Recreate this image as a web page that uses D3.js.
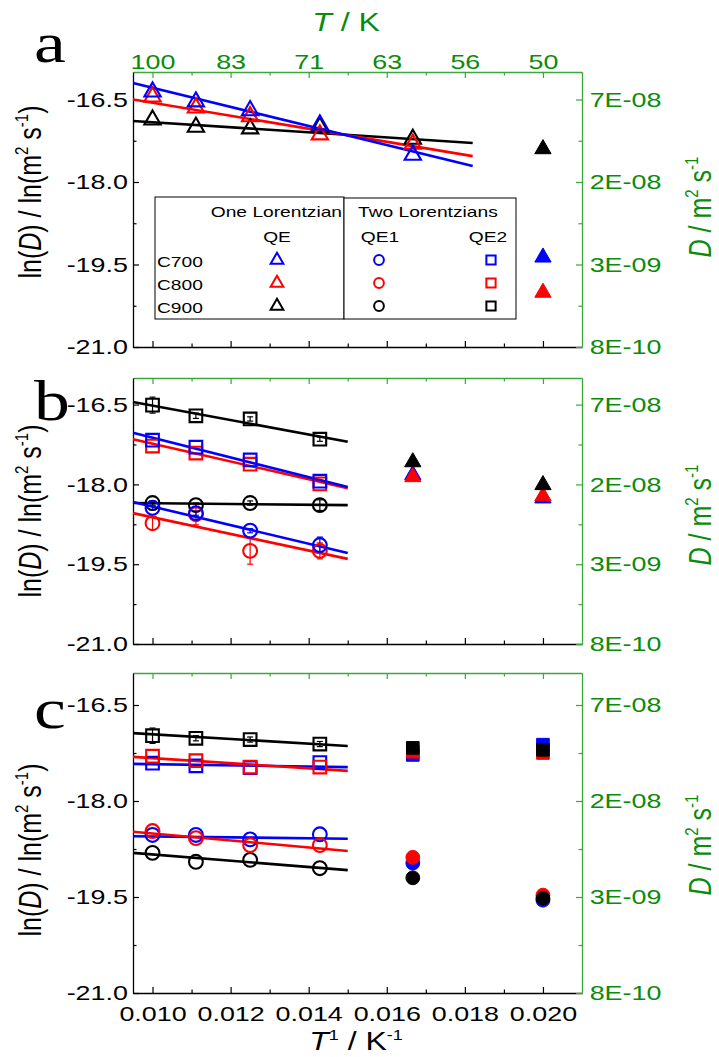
<!DOCTYPE html>
<html>
<head>
<meta charset="utf-8">
<script src="https://cdn.jsdelivr.net/npm/d3@7"></script>
<style>
  body { margin: 0; background: #fff; }
  svg { display: block; font-family: "Liberation Sans", Arial, sans-serif; }
</style>
</head>
<body>
<svg id="chart" width="719" height="1057"></svg>
<script>
// temperatures (K) of the measured points, x is 1/T
var tempsOpen = [100, 90, 80, 70];
var tempsOpenA = [100, 90, 80, 70, 60];
var xTicks = [0.010, 0.012, 0.014, 0.016, 0.018, 0.020];
var xMinor = [0.011, 0.013, 0.015, 0.017, 0.019];
var yTicks = [-16.5, -18.0, -19.5, -21.0];
var yMinor = [-17.25, -18.75, -20.25];
var samples = ["C700", "C800", "C900"];
var colors = ["#0000ff", "#ff0000", "#000000"];

// panel a: one Lorentzian, QE (open triangles)
var a_QE_C700 = [-16.36, -16.54, -16.70, -16.96, -17.51];
var a_QE_C800 = [-16.45, -16.65, -16.81, -17.14, -17.31];
var a_QE_C900 = [-16.87, -17.00, -17.03, -17.00, -17.22];
var a_filled_50K = [-19.37, -20.01, -17.40];
var a_fitX = [0.0095, 0.0182];
var a_fit_C700 = [-16.20, -17.71];
var a_fit_C800 = [-16.50, -17.53];
var a_fit_C900 = [-16.89, -17.29];

// panel b
var b_QE2_C700 = [-17.17, -17.30, -17.54, -17.94];
var b_QE2_C800 = [-17.28, -17.41, -17.62, -17.99];
var b_QE2_C900 = [-16.51, -16.71, -16.77, -17.15];
var b_QE1_C700 = [-18.44, -18.54, -18.87, -19.14];
var b_QE1_C800 = [-18.73, -18.56, -19.25, -19.25];
var b_QE1_C900 = [-18.35, -18.39, -18.35, -18.39];
var b_QE2_C900_err = [0.15, 0.05, 0.04, 0.04];
var b_QE1_C700_err = [0.04, 0.04, 0.04, 0.15];
var b_QE1_C800_err = [0.12, 0.20, 0.25, 0.15];
var b_QE1_C900_err = [0.04, 0.04, 0.04, 0.10];
var b_filled_60K = [-17.82, -17.86, -17.58];
var b_filled_50K = [-18.26, -18.22, -18.01];
var bc_fitX = [0.0095, 0.0150];
var b_fitQE2_C700 = [-17.03, -18.05];
var b_fitQE2_C800 = [-17.15, -18.07];
var b_fitQE2_C900 = [-16.45, -17.20];
var b_fitQE1_C700 = [-18.33, -19.29];
var b_fitQE1_C800 = [-18.54, -19.40];
var b_fitQE1_C900 = [-18.35, -18.39];

// panel c
var c_QE2_C700 = [-17.41, -17.45, -17.48, -17.40];
var c_QE2_C800 = [-17.30, -17.37, -17.47, -17.47];
var c_QE2_C900 = [-16.98, -17.02, -17.04, -17.11];
var c_QE1_C700 = [-18.53, -18.53, -18.60, -18.52];
var c_QE1_C800 = [-18.47, -18.58, -18.69, -18.69];
var c_QE1_C900 = [-18.81, -18.95, -18.92, -19.05];
var c_QE2_C900_err = [0.12, 0.04, 0.04, 0.04];
var c_sq_60K = [-17.28, -17.23, -17.17];
var c_sq_50K = [-17.12, -17.25, -17.20];
var c_circ_60K = [-18.97, -18.88, -19.20];
var c_circ_50K = [-19.55, -19.47, -19.52];
var c_fitQE2_C700 = [-17.42, -17.47];
var c_fitQE2_C800 = [-17.31, -17.53];
var c_fitQE2_C900 = [-16.94, -17.14];
var c_fitQE1_C700 = [-18.55, -18.59];
var c_fitQE1_C800 = [-18.48, -18.78];
var c_fitQE1_C900 = [-18.81, -19.08];


var svg = d3.select("#chart");
var green = "#0a8c0a";
var greenLine = "#3aa83a";
var stretch = 1.28;   // the original text is rendered wide
var left = 133, right = 582;

var x = d3.scaleLinear().domain([0.0095, 0.021]).range([left, right]);

var shapes = { tri: d3.symbolTriangle, circ: d3.symbolCircle, sq: d3.symbolSquare };
var sizes = { tri: 115, circ: 150, sq: 160 };

function inv(arr) { return arr.map(function(t) { return 1 / t; }); }

function wideText(g, tx, ty, str, size, anchor, fill) {
  return g.append("text")
    .attr("transform", "translate(" + tx + "," + ty + ") scale(" + stretch + ",1)")
    .attr("text-anchor", anchor || "start")
    .attr("font-size", size)
    .attr("fill", fill || "#000")
    .text(str);
}

function dLabel(v) {
  var parts = Math.exp(v).toExponential(0).split("e");
  var e = +parts[1];
  return parts[0] + "E" + (e < 0 ? "-" : "+") + String(Math.abs(e)).padStart(2, "0");
}

function styleAxis(g, col) {
  g.selectAll("path.domain").attr("stroke", col).attr("stroke-width", 1.3);
  g.selectAll(".tick line").attr("stroke", col).attr("stroke-width", 1.2);
  g.selectAll(".tick text").attr("font-size", 21).attr("font-family", "Liberation Sans, Arial, sans-serif")
    .attr("fill", col === "#000" ? "#000" : green)
    .attr("transform", "scale(" + stretch + ",1)");
}

function buildPanel(p) {
  var y = d3.scaleLinear().domain([-21, -16]).range([p.bottom, p.top]);
  var g = svg.append("g");

  // minor ticks first, then axes with frame
  g.append("g").attr("transform", "translate(0," + p.bottom + ")")
    .call(d3.axisBottom(x).tickValues(xMinor).tickFormat("").tickSize(-3.5).tickSizeOuter(0))
    .call(function(s) { s.select(".domain").remove(); styleAxis(s, "#000"); });
  g.append("g").attr("transform", "translate(0," + p.top + ")")
    .call(d3.axisTop(x).tickValues(xMinor).tickFormat("").tickSize(-3.5).tickSizeOuter(0))
    .call(function(s) { s.select(".domain").remove(); styleAxis(s, greenLine); });
  g.append("g").attr("transform", "translate(" + left + ",0)")
    .call(d3.axisLeft(y).tickValues(yMinor).tickFormat("").tickSize(-3.5).tickSizeOuter(0))
    .call(function(s) { s.select(".domain").remove(); styleAxis(s, "#000"); });
  g.append("g").attr("transform", "translate(" + right + ",0)")
    .call(d3.axisRight(y).tickValues(yMinor).tickFormat("").tickSize(-3.5).tickSizeOuter(0))
    .call(function(s) { s.select(".domain").remove(); styleAxis(s, greenLine); });

  g.append("g").attr("transform", "translate(0," + p.bottom + ")")
    .call(d3.axisBottom(x).tickValues(xTicks).tickSize(-6).tickSizeOuter(0).tickPadding(13)
      .tickFormat(p.xLabels ? d3.format(".3f") : ""))
    .call(function(s) { styleAxis(s, "#000"); });
  g.append("g").attr("transform", "translate(0," + p.top + ")")
    .call(d3.axisTop(x).tickValues(xTicks).tickSize(-6).tickSizeOuter(0).tickPadding(3)
      .tickFormat(p.topLabels ? function(d) { return Math.round(1 / d); } : ""))
    .call(function(s) { styleAxis(s, greenLine); s.selectAll(".tick text").attr("fill", green); });
  g.append("g").attr("transform", "translate(" + left + ",0)")
    .call(d3.axisLeft(y).tickValues(yTicks).tickSize(-6).tickSizeOuter(0).tickPadding(4).tickFormat(d3.format(".1f")))
    .call(function(s) { styleAxis(s, "#000"); s.selectAll(".tick text").text(function(d) { return d3.format(".1f")(d).replace("−", "-"); }); });
  g.append("g").attr("transform", "translate(" + right + ",0)")
    .call(d3.axisRight(y).tickValues(yTicks).tickSize(-6).tickSizeOuter(0).tickPadding(6).tickFormat(dLabel))
    .call(function(s) { styleAxis(s, greenLine); s.selectAll(".tick text").attr("fill", green); });

  // error bars
  p.series.forEach(function(s) {
    if (!s.err) return;
    var xs = inv(s.temps);
    var eb = g.append("g").attr("stroke", s.color).attr("stroke-width", 1.2);
    s.values.forEach(function(v, i) {
      var cx = x(xs[i]);
      eb.append("line").attr("x1", cx).attr("x2", cx).attr("y1", y(v - s.err[i])).attr("y2", y(v + s.err[i]));
      eb.append("line").attr("x1", cx - 3).attr("x2", cx + 3).attr("y1", y(v - s.err[i])).attr("y2", y(v - s.err[i]));
      eb.append("line").attr("x1", cx - 3).attr("x2", cx + 3).attr("y1", y(v + s.err[i])).attr("y2", y(v + s.err[i]));
    });
  });

  // fit lines
  var line = d3.line().x(function(d) { return x(d[0]); }).y(function(d) { return y(d[1]); });
  p.fits.forEach(function(f) {
    g.append("path").attr("d", line(d3.zip(f.x, f.y)))
      .attr("fill", "none").attr("stroke", f.color).attr("stroke-width", 2.6);
  });

  // markers
  p.series.forEach(function(s) {
    var xs = inv(s.temps);
    g.selectAll(null).data(s.values).enter().append("path")
      .attr("d", d3.symbol().type(shapes[s.shape]).size(sizes[s.shape]))
      .attr("transform", function(d, i) { return "translate(" + x(xs[i]) + "," + y(d) + ")"; })
      .attr("fill", s.filled ? s.color : "none")
      .attr("stroke", s.color)
      .attr("stroke-width", s.filled ? 1 : 2.1);
  });

  // panel letter
  svg.append("text").attr("transform", "translate(34," + p.letterY + ") scale(" + stretch + ",1)")
    .attr("font-family", "Liberation Serif, Times New Roman, serif").attr("font-size", 56).text(p.letter);

  // left title
  var lt = svg.append("text")
    .attr("transform", "translate(41," + p.leftTitleY + ") rotate(-90) scale(1," + stretch + ")")
    .attr("text-anchor", "middle").attr("font-size", 25).attr("fill", "#000");
  lt.append("tspan").text("ln(");
  lt.append("tspan").attr("font-style", "italic").text("D");
  lt.append("tspan").text(") / ln(m");
  lt.append("tspan").attr("font-size", 15).attr("dy", -10).text("2");
  lt.append("tspan").attr("dy", 10).text(" s");
  lt.append("tspan").attr("font-size", 15).attr("dy", -10).text("-1");
  lt.append("tspan").attr("dy", 10).text(")");

  // right title
  var rt = svg.append("text")
    .attr("transform", "translate(711," + p.rightTitleY + ") rotate(-90) scale(1," + stretch + ")")
    .attr("text-anchor", "middle").attr("font-size", 25).attr("fill", green);
  rt.append("tspan").attr("font-style", "italic").text("D");
  rt.append("tspan").text(" / m");
  rt.append("tspan").attr("font-size", 15).attr("dy", -10).text("2");
  rt.append("tspan").attr("dy", 10).text(" s");
  rt.append("tspan").attr("font-size", 15).attr("dy", -10).text("-1");

  return g;
}

function openSeries(temps, values, color, shape, err) {
  return { temps: temps, values: values, color: color, shape: shape, err: err, filled: false };
}
function filledSeries(temp, values, shape) {
  // one point per sample at a given temperature, drawn C700, C800, C900
  return values.map(function(v, i) {
    return { temps: [temp], values: [v], color: colors[i], shape: shape, filled: true };
  });
}
function fit(xr, yr, color) { return { x: xr, y: yr, color: color }; }

var panelA = {
  top: 72, bottom: 347, letter: "a", letterY: 62, leftTitleY: 192, rightTitleY: 207, topLabels: true,
  series: [
    openSeries(tempsOpenA, a_QE_C900, colors[2], "tri"),
    openSeries(tempsOpenA, a_QE_C800, colors[1], "tri"),
    openSeries(tempsOpenA, a_QE_C700, colors[0], "tri")
  ].concat(filledSeries(50, a_filled_50K, "tri")),
  fits: [fit(a_fitX, a_fit_C900, colors[2]), fit(a_fitX, a_fit_C800, colors[1]), fit(a_fitX, a_fit_C700, colors[0])]
};

var panelB = {
  top: 378, bottom: 644, letter: "b", letterY: 420, leftTitleY: 511, rightTitleY: 515,
  series: [
    openSeries(tempsOpen, b_QE2_C900, colors[2], "sq", b_QE2_C900_err),
    openSeries(tempsOpen, b_QE2_C800, colors[1], "sq"),
    openSeries(tempsOpen, b_QE2_C700, colors[0], "sq"),
    openSeries(tempsOpen, b_QE1_C900, colors[2], "circ", b_QE1_C900_err),
    openSeries(tempsOpen, b_QE1_C800, colors[1], "circ", b_QE1_C800_err),
    openSeries(tempsOpen, b_QE1_C700, colors[0], "circ", b_QE1_C700_err)
  ].concat(filledSeries(60, b_filled_60K, "tri"), filledSeries(50, b_filled_50K, "tri")),
  fits: [
    fit(bc_fitX, b_fitQE2_C900, colors[2]), fit(bc_fitX, b_fitQE2_C800, colors[1]), fit(bc_fitX, b_fitQE2_C700, colors[0]),
    fit(bc_fitX, b_fitQE1_C900, colors[2]), fit(bc_fitX, b_fitQE1_C800, colors[1]), fit(bc_fitX, b_fitQE1_C700, colors[0])
  ]
};

var panelC = {
  top: 673, bottom: 993, letter: "c", letterY: 728, leftTitleY: 850, rightTitleY: 845, xLabels: true,
  series: [
    openSeries(tempsOpen, c_QE2_C900, colors[2], "sq", c_QE2_C900_err),
    openSeries(tempsOpen, c_QE2_C700, colors[0], "sq"),
    openSeries(tempsOpen, c_QE2_C800, colors[1], "sq"),
    openSeries(tempsOpen, c_QE1_C900, colors[2], "circ"),
    openSeries(tempsOpen, c_QE1_C700, colors[0], "circ"),
    openSeries(tempsOpen, c_QE1_C800, colors[1], "circ")
  ].concat(filledSeries(60, c_sq_60K, "sq"), filledSeries(50, c_sq_50K, "sq"),
           filledSeries(60, c_circ_60K, "circ"), filledSeries(50, c_circ_50K, "circ")),
  fits: [
    fit(bc_fitX, c_fitQE2_C900, colors[2]), fit(bc_fitX, c_fitQE2_C700, colors[0]), fit(bc_fitX, c_fitQE2_C800, colors[1]),
    fit(bc_fitX, c_fitQE1_C900, colors[2]), fit(bc_fitX, c_fitQE1_C700, colors[0]), fit(bc_fitX, c_fitQE1_C800, colors[1])
  ]
};

[panelA, panelB, panelC].forEach(buildPanel);

// top axis title
var tt = svg.append("text").attr("transform", "translate(346,31) scale(" + stretch + ",1)")
  .attr("text-anchor", "middle").attr("font-size", 25).attr("fill", green);
tt.append("tspan").attr("font-style", "italic").text("T");
tt.append("tspan").text(" / K");

// bottom axis title
var bt = svg.append("text").attr("transform", "translate(356,1050) scale(" + stretch + ",1)")
  .attr("text-anchor", "middle").attr("font-size", 25).attr("fill", "#000");
bt.append("tspan").attr("font-style", "italic").text("T");
bt.append("tspan").attr("font-size", 14).attr("dy", -10).text("1");
bt.append("tspan").attr("dy", 10).text(" / K");
bt.append("tspan").attr("font-size", 14).attr("dy", -10).text("-1");

// legend in panel a
var leg = svg.append("g");
leg.append("rect").attr("x", 155).attr("y", 197).attr("width", 189).attr("height", 122)
  .attr("fill", "#fff").attr("stroke", "#000").attr("stroke-width", 1);
leg.append("rect").attr("x", 344).attr("y", 198).attr("width", 172).attr("height", 121)
  .attr("fill", "#fff").attr("stroke", "#000").attr("stroke-width", 1);
wideText(leg, 342, 217, "One Lorentzian", 15, "end");
wideText(leg, 358, 217, "Two Lorentzians", 15, "start");
wideText(leg, 277, 242, "QE", 15, "middle");
wideText(leg, 380, 242, "QE1", 15, "middle");
wideText(leg, 488, 242, "QE2", 15, "middle");
var legCols = [{ shape: "tri", cx: 277 }, { shape: "circ", cx: 379 }, { shape: "sq", cx: 491 }];
var legSizes = { tri: 70, circ: 75, sq: 85 };
samples.forEach(function(name, i) {
  var base = 267 + i * 23;
  wideText(leg, 157, base, name, 15, "start");
  legCols.forEach(function(c) {
    leg.append("path")
      .attr("d", d3.symbol().type(shapes[c.shape]).size(legSizes[c.shape]))
      .attr("transform", "translate(" + c.cx + "," + (base - 7) + ")")
      .attr("fill", "none").attr("stroke", colors[i]).attr("stroke-width", 2);
  });
});
</script>
</body>
</html>
